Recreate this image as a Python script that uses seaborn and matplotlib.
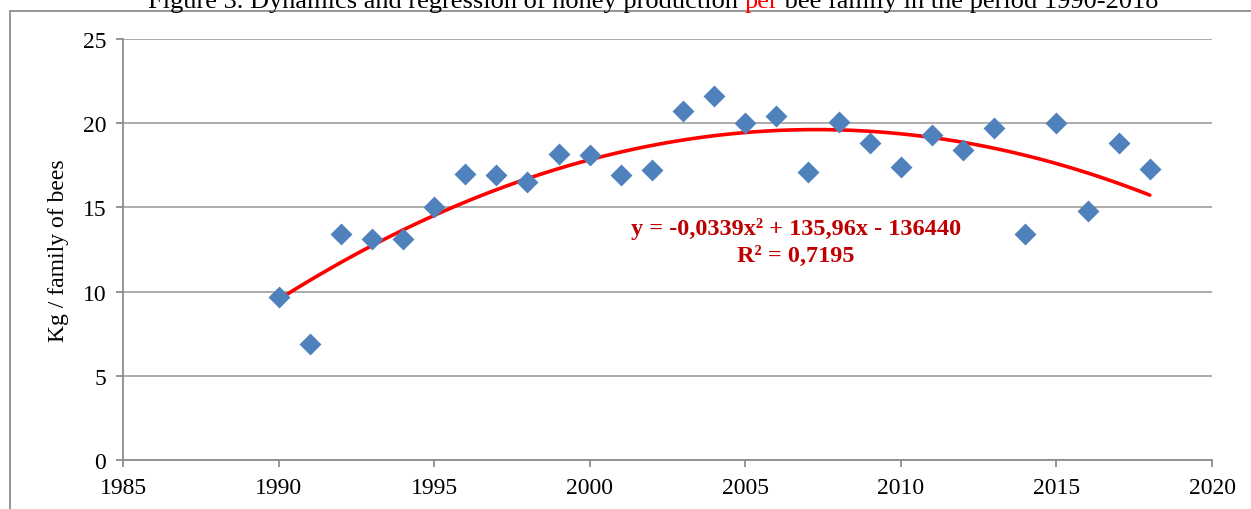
import seaborn as sns
import matplotlib.pyplot as plt
from matplotlib.patches import Rectangle
import pandas as pd

# Honey production per bee family (kg)
years = list(range(1990, 2019))
kg_per_family = [9.7, 6.9, 13.4, 13.1, 13.1, 15.0, 17.0, 16.9, 16.5, 18.2,
                 18.1, 16.9, 17.2, 20.7, 21.6, 20.0, 20.4, 17.1, 20.1, 18.8,
                 17.4, 19.3, 18.4, 19.7, 13.4, 20.0, 14.8, 18.8, 17.3]
equation_text = "y = -0,0339x² + 135,96x - 136440"
r2_text = "R² = 0,7195"
title_parts = [("Figure 3. Dynamics and regression of honey production ", "black"),
               ("per", "red"),
               (" bee family in the period 1990-2018", "black")]

df = pd.DataFrame({"year": years, "kg": kg_per_family})

sns.set_style("white")
plt.rcParams["font.family"] = ["Liberation Serif", "DejaVu Serif"]

fig = plt.figure(figsize=(12.51, 5.10), dpi=100)
ax = fig.add_axes([123 / 1251, 1 - 461 / 510, (1212 - 123) / 1251, (461 - 40) / 510])

# outer chart frame (cut off by the image edges)
fig.patches.append(Rectangle((10 / 1251, -0.1), 1.2, 1.1 - 12 / 510, transform=fig.transFigure,
                             fill=False, edgecolor="#8c8c8c", linewidth=1.3, zorder=0))

sns.regplot(data=df, x="year", y="kg", order=2, ci=None, scatter=False, ax=ax,
            line_kws={"color": "#ff0000", "linewidth": 2.6, "zorder": 3})
sns.scatterplot(data=df, x="year", y="kg", marker="D", s=125, color="#4f81bd",
                edgecolor="#4f81bd", linewidth=0, ax=ax, zorder=4)

ax.set_xlim(1985, 2020)
ax.set_ylim(0, 25)
ax.set_xticks(range(1985, 2021, 5))
ax.set_yticks(range(0, 26, 5))
ax.grid(axis="y", color="#a6a6a6", linewidth=1.3)
ax.set_axisbelow(True)
for side in ["top", "right"]:
    ax.spines[side].set_visible(False)
for side in ["left", "bottom"]:
    ax.spines[side].set_color("#8c8c8c")
    ax.spines[side].set_linewidth(1.3)
ax.tick_params(axis="both", direction="out", length=5, width=1.3, color="#8c8c8c",
               labelsize=17, labelcolor="black", pad=7, left=True, bottom=True)
ax.set_xlabel("")
ax.set_ylabel("Kg / family of bees", fontsize=17, color="black", labelpad=10)

ax.text(0.618, 0.551, equation_text, transform=ax.transAxes, ha="center", va="center",
        fontsize=17.5, fontweight="bold", color="#c00000")
ax.text(0.618, 0.487, r2_text, transform=ax.transAxes, ha="center", va="center",
        fontsize=17.5, fontweight="bold", color="#c00000")

# title with the red word, placed piece by piece
fig.canvas.draw()
renderer = fig.canvas.get_renderer()
pieces = []
for txt, col in title_parts:
    pieces.append(fig.text(0, 1 - 8 / 510, txt, color=col, fontsize=19, va="baseline", ha="left"))
widths = [p.get_window_extent(renderer).width for p in pieces]
x = 653 - sum(widths) / 2
for p, w in zip(pieces, widths):
    p.set_x(x / 1251)
    x += w

fig.savefig("out.png", dpi=100)
plt.close(fig)
